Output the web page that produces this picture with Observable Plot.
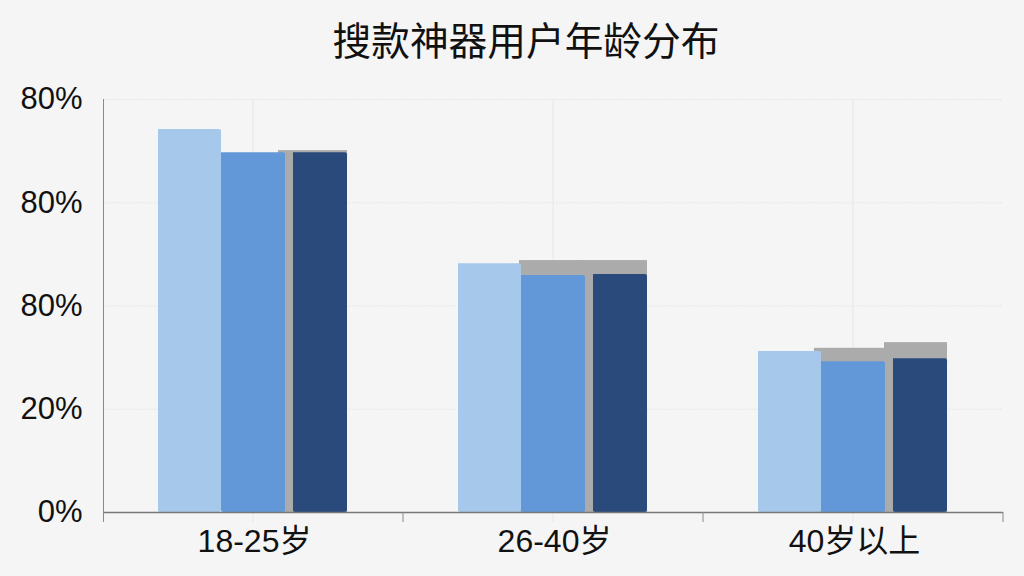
<!DOCTYPE html>
<html><head><meta charset="utf-8">
<script src="https://cdn.jsdelivr.net/npm/d3@7"></script>
<script src="https://cdn.jsdelivr.net/npm/@observablehq/plot@0.6"></script>
<style>
html,body{margin:0;padding:0;background:#f5f5f5;width:1024px;height:576px;overflow:hidden}
#title{height:84px;padding-left:28px;text-align:center;font:38.7px/84px "Liberation Sans","Noto Sans CJK SC",sans-serif;color:#111}
svg{display:block}
</style></head><body>
<div id="title">搜款神器用户年龄分布</div>
<div id="chart"></div>
<script>
const categories = ["18-25岁", "26-40岁", "40岁以上"];
const light  = [74.2, 48.2, 31.2];
const medium = [69.7, 45.9, 29.2];
const dark   = [69.7, 46.1, 29.8];
const grayLeft  = [null, 48.8, 31.8];
const grayRight = [70.1, 48.8, 32.9];
const tickValues = [0, 20, 40, 60, 80];
const tickLabels = ["0%", "20%", "80%", "80%", "80%"];

const rows = (values, slot) => values.map((v, i) => ({cat: categories[i], slot, v})).filter(d => d.v != null);
const bar = (data, fill, insets) => Plot.barY(data, {fx: "cat", x: "slot", y: "v", fill, ry2: 2, rx2: 2, ...insets});
const gray = (data, insets) => Plot.barY(data, {fx: "cat", x: "slot", y: "v", fill: "#ababab", ...insets});
const axisColor = "#8a8a8a", gridColor = "#e6e6e6";
const bottom = -1.94;

const chart = Plot.plot({
  width: 1024, height: 492,
  marginTop: 15, marginBottom: 54, marginLeft: 103, marginRight: 21,
  style: {background: "#f5f5f5", fontFamily: '"Liberation Sans","Noto Sans CJK SC",sans-serif', color: "#111", overflow: "visible"},
  fx: {domain: categories, padding: 0, round: false, label: null},
  x: {domain: ["a", "b", "c"], padding: 0, insetLeft: 55, insetRight: 56, round: false, axis: null, label: null},
  y: {domain: [bottom, 80], label: null},
  marks: [
    Plot.ruleY(tickValues, {stroke: gridColor, strokeWidth: 1, strokeDasharray: "2,1"}),
    Plot.ruleX(["b"], {y1: bottom, y2: 80, stroke: gridColor}),
    Plot.axisY({ticks: tickValues, tickSize: 0, tickPadding: 21, tickFormat: (d, i) => tickLabels[i], label: null, fontSize: 31, facetAnchor: "left"}),
    Plot.axisFx({anchor: "bottom", tickSize: 0, tickPadding: 7, dx: 1, label: null, fontSize: 32}),
    gray(rows(grayRight, "c").slice(0, 1), {insetLeft: -6}),
    gray(rows(grayRight, "c").slice(1, 2), {insetLeft: -6}),
    gray(rows(grayRight, "c").slice(2), {}),
    gray(rows(grayLeft, "b").slice(0, 1), {insetLeft: -2}),
    gray(rows(grayLeft, "b").slice(1), {insetLeft: -7}),
    bar(rows(light, "a"), "#a6c8ea", {}),
    bar(rows(medium, "b"), "#6297d8", {insetRight: -1}),
    bar(rows(dark, "c"), "#294a7b", {insetLeft: 9}),
    Plot.ruleY([0], {stroke: "#777", strokeWidth: 1.3}),
    Plot.ruleX(["b"], {y1: bottom, y2: 0, dx: 150, stroke: axisColor}),
    Plot.ruleX(["a"], {y1: bottom, y2: 80, dx: -86.5, stroke: axisColor, fx: d => categories[0]})
  ]
});
document.getElementById("chart").append(chart);
</script>
</body></html>
